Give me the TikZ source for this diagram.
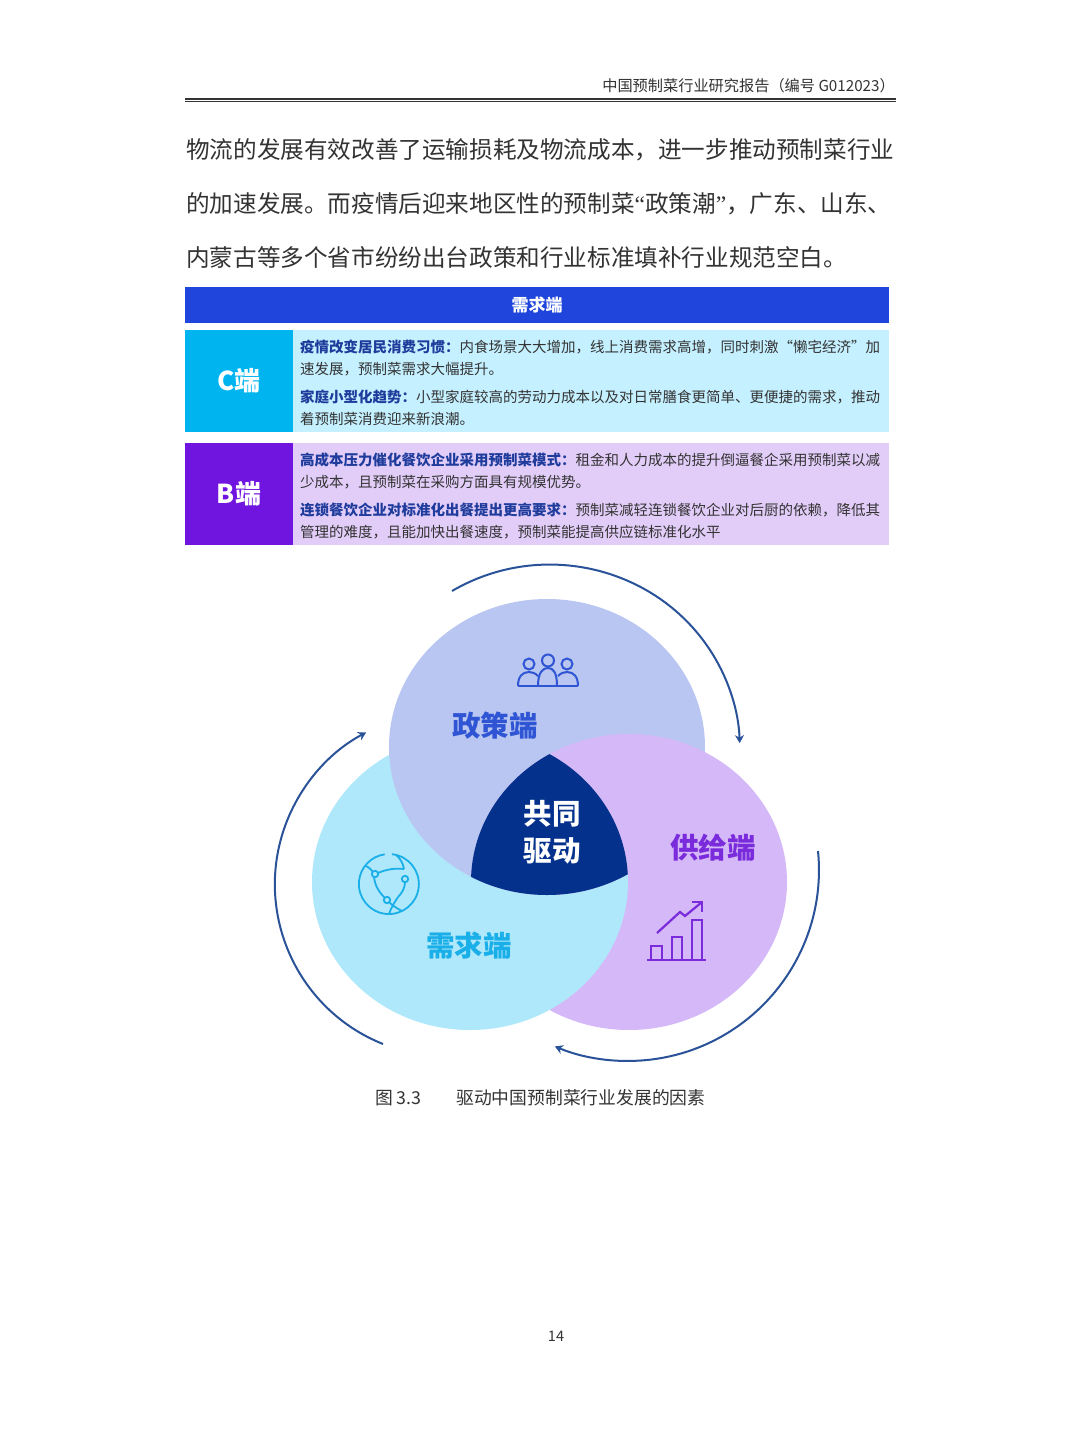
\documentclass[tikz,border=0pt]{standalone}
\usepackage{fontspec}
\setmainfont{Noto Sans CJK SC}
\newfontfamily\quotefont{Liberation Serif}
\usepackage{xcolor}
\usetikzlibrary{arrows.meta}
\definecolor{barblue}{HTML}{1F45DC}
\definecolor{cdark}{HTML}{00B4F0}
\definecolor{clight}{HTML}{C5F0FF}
\definecolor{bdark}{HTML}{7015E0}
\definecolor{blight}{HTML}{E2CDF9}
\definecolor{headblue}{HTML}{1F3C9C}
\definecolor{policyfill}{HTML}{B9C6F2}
\definecolor{supplyfill}{HTML}{D5B8F7}
\definecolor{demandfill}{HTML}{B0E8FB}
\definecolor{centerfill}{HTML}{03318C}
\definecolor{policyink}{HTML}{2F55D4}
\definecolor{supplyink}{HTML}{7A2BDB}
\definecolor{demandink}{HTML}{1AAFE8}
\definecolor{arcblue}{HTML}{2A5298}
\definecolor{pagetext}{HTML}{333333}
\newcommand{\policypath}{(547,747) ellipse [x radius=158,y radius=148]}
\newcommand{\supplypath}{(629,882) ellipse [x radius=158,y radius=148]}
\newcommand{\demandpath}{(470,882) ellipse [x radius=158,y radius=148]}
\newcommand{\hd}[1]{{\bfseries\color{headblue}#1}}
\tikzset{
  bodyline/.style={anchor=west,font=\fontsize{23.6}{24}\selectfont,text=pagetext,inner sep=0pt},
  para/.style={anchor=north west,align=left,font=\fontsize{14.5}{22}\selectfont,text=pagetext,inner sep=0pt},
  tag/.style={text=white,font=\fontsize{26}{28}\selectfont\bfseries,inner sep=0pt},
  venn/.style={font=\fontsize{28.5}{30}\selectfont\bfseries,inner sep=0pt},
  flow/.style={-{Stealth[length=8pt,width=9pt]},arcblue,line width=2pt},
}
\begin{document}
\begin{tikzpicture}[x=1pt,y=-1pt]
\useasboundingbox[fill=white](0,0)rectangle(1080,1440);
% page head
\node[anchor=east,inner sep=0pt,font=\fontsize{15.2}{16}\selectfont,text=pagetext](head)at(895,86){中国预制菜行业研究报告（编号 G012023）};
\fill[pagetext](185,97.5)rectangle(896,99.5);
\fill[pagetext](185,100.5)rectangle(896,101.3);
\node[bodyline](lineA)at(186,150){物流的发展有效改善了运输损耗及物流成本，进一步推动预制菜行业};
\node[bodyline](lineB)at(186,204){的加速发展。而疫情后迎来地区性的预制菜{\quotefont “}政策潮{\quotefont ”}，广东、山东、};
\node[bodyline](lineC)at(186,257){内蒙古等多个省市纷纷出台政策和行业标准填补行业规范空白。};
% table
\fill[barblue](185,287)rectangle(889,323);
\node[text=white,inner sep=0pt,font=\fontsize{17}{18}\selectfont\bfseries](title)at(537,305){需求端};
\fill[clight](293,330)rectangle(889,432);
\fill[cdark](185,330)rectangle(293,432);
\node[tag](ctag)at(239,381){C端};
\node[para](cone)at(300,340){\hd{疫情改变居民消费习惯：}内食场景大大增加，线上消费需求高增，同时刺激“懒宅经济”加\\速发展，预制菜需求大幅提升。};
\node[para](ctwo)at(300,390){\hd{家庭小型化趋势：}小型家庭较高的劳动力成本以及对日常膳食更简单、更便捷的需求，推动\\着预制菜消费迎来新浪潮。};
\fill[blight](293,443)rectangle(889,545);
\fill[bdark](185,443)rectangle(293,545);
\node[tag](btag)at(239,494){B端};
\node[para](bone)at(300,453){\hd{高成本压力催化餐饮企业采用预制菜模式：}租金和人力成本的提升倒逼餐企采用预制菜以减\\少成本，且预制菜在采购方面具有规模优势。};
\node[para](btwo)at(300,503){\hd{连锁餐饮企业对标准化出餐提出更高要求：}预制菜减轻连锁餐饮企业对后厨的依赖，降低其\\管理的难度，且能加快出餐速度，预制菜能提高供应链标准化水平};
% three overlapping discs
\fill[supplyfill]\supplypath;
\fill[demandfill]\demandpath;
\fill[policyfill]\policypath;
\begin{scope}
\clip\policypath;
\fill[supplyfill]\supplypath;
\clip\supplypath;
\fill[centerfill]\demandpath;
\end{scope}
\node[venn,text=policyink](policy)at(495,726){政策端};
\node[venn,text=supplyink](supply)at(713,848){供给端};
\node[venn,text=demandink](demand)at(469,946){需求端};
\node[venn,text=white,align=center,font=\fontsize{28.5}{37}\selectfont\bfseries](center)at(552,832){共同\\驱动};
% arcs round the discs
\coordinate(topstart)at(452,591);
\coordinate(rightstart)at(818,851);
\coordinate(leftstart)at(383,1044);
\draw[flow](topstart)arc[start angle=-121,end angle=-2,x radius=190,y radius=185];
\draw[flow](rightstart)arc[start angle=-5.7,end angle=112.5,radius=191];
\draw[flow](leftstart)arc[start angle=111.8,end angle=242,radius=172];
% people icon
\begin{scope}[policyink,line width=2pt]
\draw(529,664)circle[radius=5.5];
\draw(548,660.5)circle[radius=6];
\draw(567,664)circle[radius=5.5];
\draw(518,686).. controls (518,677) and (522,672) .. (529,672).. controls (532,672) and (535,673) .. (538,676);
\draw(538,686).. controls (538,672) and (543,668) .. (548,668).. controls (553,668) and (557,672) .. (557,686);
\draw(558,676).. controls (561,673) and (564,672) .. (567,672).. controls (574,672) and (578,677) .. (578,686);
\draw(518,686)--(578,686);
\end{scope}
% globe icon
\begin{scope}[demandink,line width=1.8pt]
\draw(392,854.2)arc[start angle=-84,end angle=262,radius=30];
\draw(375,874)circle[radius=3.2];
\draw(405,879)circle[radius=3.2];
\draw(387,900)circle[radius=3.2];
\draw(378,873).. controls (387,869) and (396,868) .. (404,869);
\draw(405,882).. controls (405,888) and (402,893) .. (398,897);
\draw(385,898).. controls (379,892) and (375,886) .. (374,877);
\draw(373,872).. controls (370,868) and (367,866) .. (365,866);
\draw(404,869).. controls (403,863) and (400,858) .. (396,855);
\draw(389,902).. controls (392,905) and (396,908) .. (402,911);
\draw(398,897).. controls (394,903) and (391,908) .. (389,914);
\end{scope}
% chart icon
\begin{scope}[supplyink,line width=2.2pt]
\draw(647,960)--(706,960);
\draw(651,960)--(651,946)--(662,946)--(662,960);
\draw(672,960)--(672,937)--(682,937)--(682,960);
\draw(692,960)--(692,920)--(702,920)--(702,960);
\draw(657,933)--(680,912)--(685,916)--(702,902);
\draw(692,902)--(702,902)--(702,912);
\end{scope}
% caption and page number
\node[inner sep=0pt,anchor=west,font=\fontsize{17.8}{19}\selectfont,text=pagetext](figno)at(375,1098){图 3.3};
\node[inner sep=0pt,anchor=west,font=\fontsize{17.8}{19}\selectfont,text=pagetext](caption)at(456,1098){驱动中国预制菜行业发展的因素};
\node[inner sep=0pt,font=\fontsize{14.5}{16}\selectfont,text=pagetext](pageno)at(556,1336){14};
\end{tikzpicture}
\end{document}
